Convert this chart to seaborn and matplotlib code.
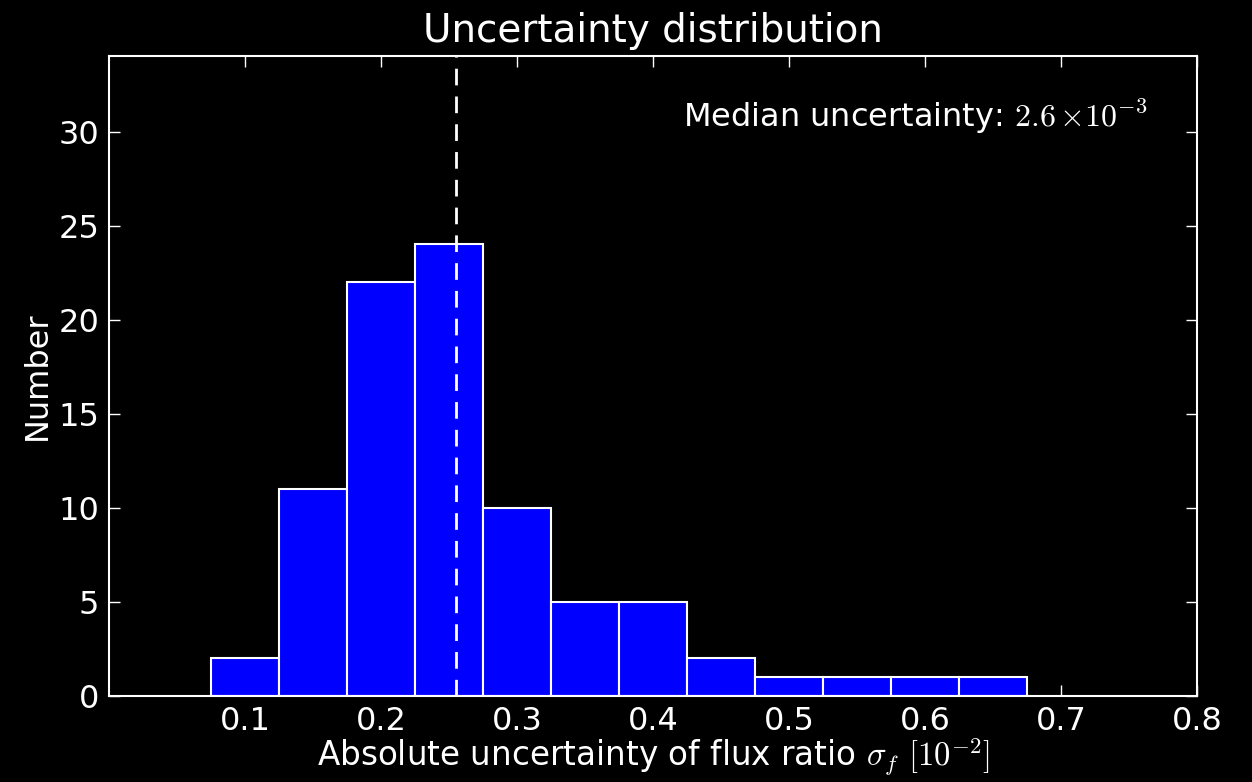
import numpy as np
import pandas as pd
import matplotlib
matplotlib.use("Agg")
import matplotlib.pyplot as plt
import seaborn as sns

# Histogram of absolute flux-ratio uncertainties (units of 1e-2)
bin_edges = [0.075, 0.125, 0.175, 0.225, 0.275, 0.325, 0.375,
             0.425, 0.475, 0.525, 0.575, 0.625, 0.675]
counts = [2, 11, 22, 24, 10, 5, 5, 2, 1, 1, 1, 1]
median_sigma = 0.255  # units of 1e-2
x_ticks = [0.1, 0.2, 0.3, 0.4, 0.5, 0.6, 0.7, 0.8]
y_ticks = [0, 5, 10, 15, 20, 25, 30]

centers = [(a + b) / 2 for a, b in zip(bin_edges[:-1], bin_edges[1:])]
df = pd.DataFrame({"sigma": centers, "n": counts})

sns.set_theme(style="dark")
plt.rcParams["font.family"] = ["DejaVu Sans"]
plt.rcParams["mathtext.fontset"] = "cm"

fig = plt.figure(figsize=(12.52, 7.82), dpi=100, facecolor="black")
ax = fig.add_axes([0.0871, 0.110, 0.869, 0.818])
ax.set_facecolor("black")

sns.histplot(data=df, x="sigma", weights="n", bins=bin_edges, ax=ax,
             color="#0000ff", edgecolor="white", linewidth=1.5, alpha=1.0)

ax.axvline(median_sigma, color="white", lw=2, dashes=(6, 4))

ax.set_xlim(0.0, 0.8)
ax.set_ylim(0, 34)
ax.set_xticks(x_ticks)
ax.set_xticklabels([f"{t:.1f}" for t in x_ticks])
ax.set_yticks(y_ticks)
ax.grid(False)

for s in ax.spines.values():
    s.set_visible(True)
    s.set_color("white")
    s.set_linewidth(1.5)

ax.tick_params(axis="both", which="major", direction="in", length=8, width=1,
               color="white", labelcolor="white", labelsize=23,
               top=True, right=True, bottom=True, left=True, pad=7)

ax.set_title("Uncertainty distribution", color="white", fontsize=28, pad=10)
ax.set_xlabel(r"Absolute uncertainty of flux ratio $\sigma_f$ $[10^{-2}]$",
              color="white", fontsize=23.5, labelpad=0)
ax.set_ylabel("Number", color="white", fontsize=23, labelpad=4)

med_txt = f"{np.floor(median_sigma * 100 + 0.5) / 10:.1f}"
ax.text(0.955, 0.905, "Median uncertainty: " + rf"${med_txt}\,{{\times}}10^{{-3}}$",
        transform=ax.transAxes, ha="right", va="center",
        color="white", fontsize=23)

fig.savefig("out.png", dpi=100, facecolor="black")
